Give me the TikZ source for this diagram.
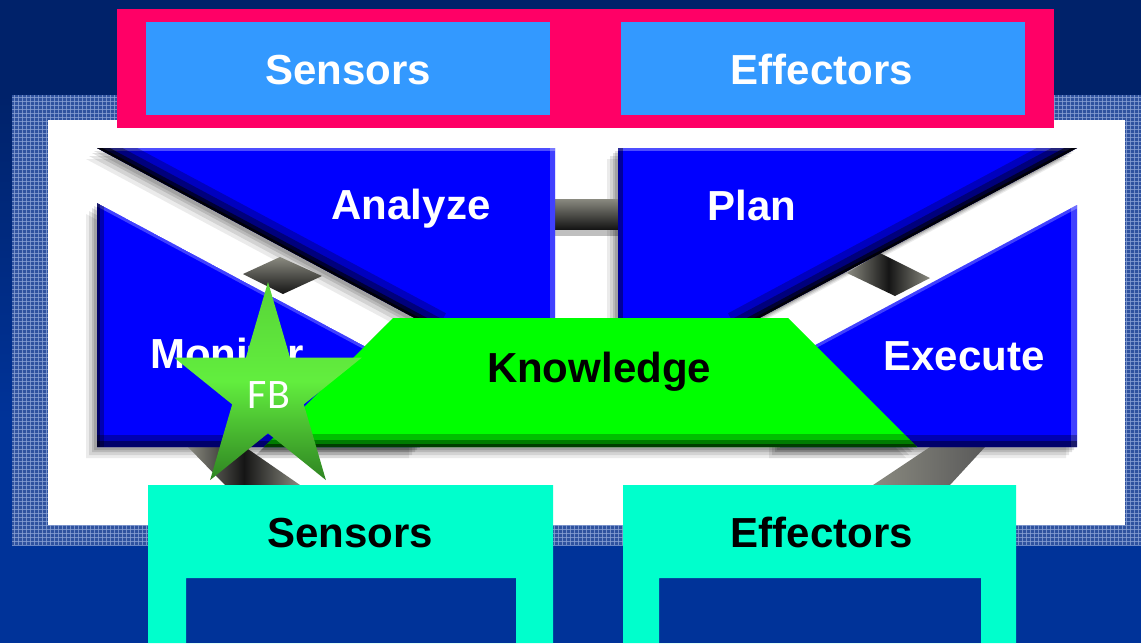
\documentclass[tikz,border=0pt]{standalone}
\usepackage{fontspec}
\setmainfont{Liberation Sans}
\newfontfamily\carl{Carlito}
\definecolor{bgtop}{HTML}{00226A}
\definecolor{bgbot}{HTML}{003399}
\definecolor{chk}{HTML}{2F529F}
\definecolor{chkline}{HTML}{8DA4D6}
\definecolor{mag}{HTML}{FF0066}
\definecolor{lblue}{HTML}{3399FF}
\definecolor{mblue}{HTML}{0000FF}
\definecolor{kgreen}{HTML}{00FF00}
\definecolor{cyanb}{HTML}{00FFCC}
\definecolor{stTop}{HTML}{58D438}
\definecolor{stMid}{HTML}{62EE3E}
\definecolor{stBot}{HTML}{2F8422}
\definecolor{cgrey}{HTML}{8A8A80}
\definecolor{cdark}{HTML}{151515}
\tikzset{
  lbl/.style={font=\fontsize{42}{48}\selectfont\bfseries, inner sep=0pt, anchor=base},
  wlbl/.style={lbl, text=white},
  blbl/.style={lbl, text=black},
  darkedge/.style={draw=black, line width=#1},
  lightedge/.style={draw=white, line width=#1},
}
\def\pA{(97,148) -- (555,148) -- (555,330) -- (437,330) -- cycle}
\def\pM{(97,203) -- (420,375.8) -- (420,447) -- (97,447) -- cycle}
\def\pP{(618,148) -- (1077,148) -- (737,330) -- (618,330) -- cycle}
\def\pE{(1077,205) -- (1077,447) -- (780,447) -- (780,363.9) -- cycle}
\def\pK{(393,318) -- (788,318) -- (917,447) -- (264,447) -- cycle}
\begin{document}
\begin{tikzpicture}[x=1pt,y=-1pt]
\useasboundingbox (0,0) rectangle (1141,643);
% background
\fill[bgbot] (0,0) rectangle (1141,643);
\fill[bgtop] (0,0) rectangle (1141,95);
\shade[top color=bgtop,bottom color=bgbot] (0,95) rectangle (12,420);
% checker band
\fill[chk] (12,95) rectangle (1141,545);
\begin{scope}
  \clip (12,95) rectangle (1141,545);
  \foreach \x in {14,18,...,1141} \draw[chkline,line width=1,opacity=.75] (\x,95) -- (\x,545);
  \foreach \y in {97,101,...,545} \draw[chkline,line width=1,opacity=.75] (12,\y) -- (1141,\y);
\end{scope}
\fill[white] (48,120) rectangle (1125,525);
% top bar
\fill[mag] (117,9) rectangle (1054,128);
\fill[lblue] (146,22) rectangle (550,115);
\fill[lblue] (621,22) rectangle (1025,115);
\node[wlbl] (tsens) at (348,84) {Sensors};
\node[wlbl] (teff) at (822,84) {Effectors};
% shadows
\foreach \s/\o in {11/.08,8/.10,5/.12,3/.12} {
  \fill[black,opacity=\o,shift={(-\s,\s)}] \pA;
  \fill[black,opacity=\o,shift={(-\s,\s)}] \pM;
  \fill[black,opacity=\o,shift={(-\s,\s)}] \pP;
  \fill[black,opacity=\o,shift={(-\s,\s)}] \pE;
  \fill[black,opacity=\o,shift={(-\s,\s)}] \pK;
}
% connectors
\fill[black,opacity=.25] (545,228) rectangle (630,236);
\shade[top color=cgrey,bottom color=cdark] (545,199) rectangle (630,229);
\shade[top color=cgrey,bottom color=cdark] (243,274) -- (280,257) -- (322,276) -- (283,294) -- cycle;
\shade[left color=cgrey,right color=cgrey,middle color=cdark] (847,273) -- (880,253) -- (930,278) -- (895,296) -- cycle;
\shade[left color=cgrey,right color=cgrey,middle color=cdark] (188,447) -- (245,447) -- (300,485) -- (225,485) -- cycle;
\shade[left color=cgrey,right color=black!65] (930,447) -- (985,447) -- (950,485) -- (873,485) -- cycle;
% Analyze
\begin{scope}
  \clip \pA;
  \fill[mblue] \pA;
  \draw[lightedge=6,opacity=.3] (97,148) -- (555,148);
  \draw[lightedge=10,opacity=.25] (555,148) -- (555,330);
  \draw[darkedge=38,opacity=.25] (97,148) -- (437,330);
  \draw[darkedge=24,opacity=.35] (97,148) -- (437,330);
  \draw[darkedge=12,opacity=.6] (97,148) -- (437,330);
  \draw[darkedge=5,opacity=.8] (97,148) -- (437,330);
\end{scope}
% Plan
\begin{scope}
  \clip \pP;
  \fill[mblue] \pP;
  \draw[lightedge=6,opacity=.3] (618,148) -- (1077,148);
  \draw[darkedge=10,opacity=.4] (618,148) -- (618,330);
  \draw[darkedge=38,opacity=.25] (1077,148) -- (737,330);
  \draw[darkedge=24,opacity=.35] (1077,148) -- (737,330);
  \draw[darkedge=12,opacity=.6] (1077,148) -- (737,330);
  \draw[darkedge=5,opacity=.8] (1077,148) -- (737,330);
\end{scope}
% Monitor
\begin{scope}
  \clip \pM;
  \fill[mblue] \pM;
  \draw[lightedge=6,opacity=.25] (97,203) -- (420,375.8);
  \draw[darkedge=14,opacity=.3] (97,203) -- (97,447);
  \draw[darkedge=6,opacity=.4] (97,203) -- (97,447);
  \draw[darkedge=24,opacity=.3] (97,447) -- (420,447);
  \draw[darkedge=12,opacity=.4] (97,447) -- (420,447);
\end{scope}
% Execute
\begin{scope}
  \clip \pE;
  \fill[mblue] \pE;
  \draw[lightedge=6,opacity=.25] (1077,205) -- (780,363.9);
  \draw[lightedge=12,opacity=.25] (1077,205) -- (1077,447);
  \draw[darkedge=24,opacity=.3] (780,447) -- (1077,447);
  \draw[darkedge=12,opacity=.4] (780,447) -- (1077,447);
\end{scope}
% Knowledge
\begin{scope}
  \clip \pK;
  \fill[kgreen] \pK;
  \draw[darkedge=26,opacity=.25] (264,447) -- (917,447);
  \draw[darkedge=14,opacity=.35] (264,447) -- (917,447);
  \draw[darkedge=6,opacity=.5] (264,447) -- (917,447);
\end{scope}
\node[wlbl] (analyze) at (411,219) {Analyze};
\node[wlbl] (plan) at (752,220) {Plan};
\node[wlbl] (monitor) at (227,368) {Monitor};
\node[wlbl] (execute) at (964,370) {Execute};
\node[blbl] (knowledge) at (599,382) {Knowledge};
% bottom boxes
\fill[cyanb,even odd rule] (148,485) rectangle (553,643) (186,578) rectangle (516,643);
\fill[cyanb,even odd rule] (623,485) rectangle (1016,643) (659,578) rectangle (981,643);
\node[blbl] (bsens) at (350,547) {Sensors};
\node[blbl] (beff) at (822,547) {Effectors};
% star
\shade[top color=stTop,bottom color=stBot,middle color=stMid]
  (268,282) -- (290.1,357.7) -- (361.7,357.7) -- (303.8,404.4) -- (325.9,480.1)
  -- (268,433.3) -- (210.1,480.1) -- (232.2,404.4) -- (174.3,357.7) -- (245.9,357.7) -- cycle;
\node[inner sep=0pt,anchor=base,text=white,font=\carl\fontsize{42}{48}\selectfont] (fb) at (269,408) {FB};
\end{tikzpicture}
\end{document}
